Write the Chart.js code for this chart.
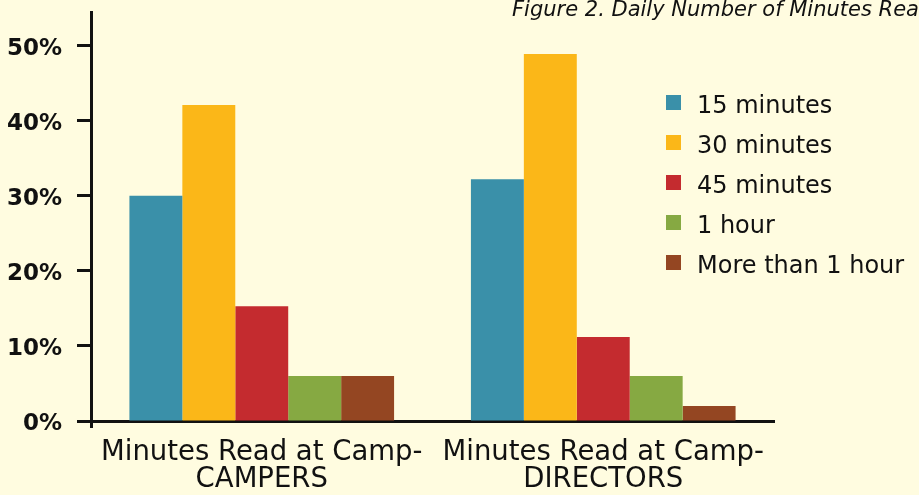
<!DOCTYPE html>
<html>
<head>
<meta charset="utf-8">
<script src="https://cdn.jsdelivr.net/npm/chart.js@4"></script>
<style>
  html, body { margin: 0; padding: 0; background: #FFFCE0; }
  #wrap { width: 919px; height: 495px; position: relative; overflow: hidden; }
  canvas { display: block; }
</style>
</head>
<body>
<div id="wrap"><canvas id="chart" width="919" height="495"></canvas></div>
<script>
// Share of respondents (%) by daily reading time
const categories = [["Minutes Read at Camp-", "CAMPERS"], ["Minutes Read at Camp-", "DIRECTORS"]];
const seriesNames = ["15 minutes", "30 minutes", "45 minutes", "1 hour", "More than 1 hour"];
const min15 = [30, 32.2];
const min30 = [42.1, 48.9];
const min45 = [15.3, 11.2];
const hour1 = [6, 6];
const moreThanHour = [6, 2];
const yTickValues = [0, 10, 20, 30, 40, 50];
const titleText = "Figure 2. Daily Number of Minutes Read at Camp";

const seriesValues = [min15, min30, min45, hour1, moreThanHour];
const seriesColors = ["#3A90A9", "#FBB718", "#C42B2F", "#86A942", "#944622"];

const FONT = "'DejaVu Sans', sans-serif";
const INK = "#111111";

// Title in the top-right corner and the legend inside the plot area
const decorations = {
  id: "decorations",
  afterDraw(chart) {
    const ctx = chart.ctx;
    ctx.save();
    ctx.fillStyle = INK;
    ctx.font = "italic 21px " + FONT;
    ctx.textAlign = "left";
    ctx.textBaseline = "alphabetic";
    ctx.fillText(titleText, 512, 16);

    ctx.font = "24px " + FONT;
    chart.data.datasets.forEach((ds, i) => {
      const top = 95 + i * 40;
      ctx.fillStyle = ds.backgroundColor;
      ctx.fillRect(666, top, 15, 15);
      ctx.fillStyle = INK;
      ctx.fillText(ds.label, 697, top + 17.5);
    });
    ctx.restore();
  }
};

new Chart(document.getElementById("chart"), {
  type: "bar",
  data: {
    labels: categories,
    datasets: seriesNames.map((name, i) => ({
      label: name,
      data: seriesValues[i],
      backgroundColor: seriesColors[i],
      borderWidth: 0,
      barPercentage: 1.0,
      categoryPercentage: 0.775
    }))
  },
  options: {
    responsive: false,
    animation: false,
    devicePixelRatio: 1,
    layout: { padding: { top: 12, right: 145, left: 0, bottom: 0 } },
    plugins: {
      legend: { display: false },
      title: { display: false },
      tooltip: { enabled: false }
    },
    scales: {
      x: {
        offset: true,
        grid: {
          drawOnChartArea: false,
          drawTicks: true,
          tickLength: 7,
          tickWidth: 3,
          tickColor: (c) => (c.index === 0 ? INK : "rgba(0,0,0,0)"),
          offset: true
        },
        border: { display: true, color: INK, width: 3 },
        ticks: {
          color: INK,
          font: { family: FONT, size: 27.5, lineHeight: 0.98 },
          padding: 11,
          maxRotation: 0,
          autoSkip: false
        },
        afterFit(scale) {
          scale.height = 74;
          scale.paddingLeft = 0;
          scale.paddingRight = 0;
        }
      },
      y: {
        min: 0,
        max: 54.5,
        afterBuildTicks(scale) {
          scale.ticks = yTickValues.map(v => ({ value: v }));
        },
        grid: {
          drawOnChartArea: false,
          drawTicks: true,
          tickLength: 14,
          tickWidth: 3,
          tickColor: INK
        },
        border: { display: true, color: INK, width: 3 },
        ticks: {
          color: INK,
          font: { family: FONT, size: 23, weight: "bold" },
          padding: 15,
          labelOffset: 3,
          callback: (v) => v + "%"
        },
        afterFit(scale) {
          scale.width = 91;
          scale.paddingTop = 0;
          scale.paddingBottom = 0;
        }
      }
    }
  },
  plugins: [decorations]
});
</script>
</body>
</html>
